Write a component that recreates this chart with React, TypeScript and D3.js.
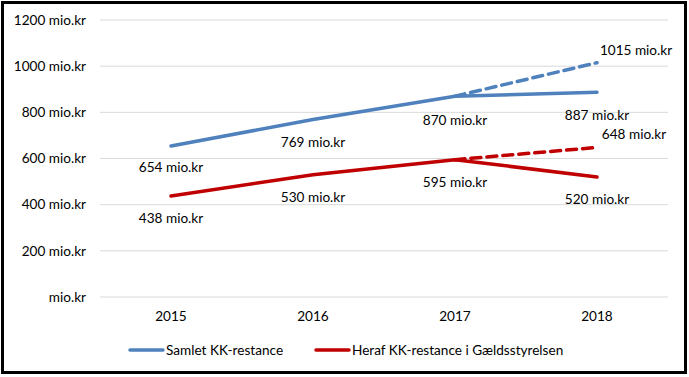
import React from "react";
import * as d3 from "d3";

const years = ["2015", "2016", "2017", "2018"];
const samlet = [654, 769, 870, 887];
const samletForecast = [870, 1015]; // 2017 -> 2018 (dashed)
const heraf = [438, 530, 595, 520];
const herafForecast = [595, 648];
const yTicks = [0, 200, 400, 600, 800, 1000, 1200];
const seriesNames = ["Samlet KK-restance", "Heraf KK-restance i Gældsstyrelsen"];

const W = 689;
const H = 377;
const BLUE = "#4F81BD";
const RED = "#C00000";
const FONT = "Lato, 'Open Sans', sans-serif";
const FS = 13.6;

export default function App() {
  const x = d3.scaleBand<string>().domain(years).range([100, 668]);
  const cx = (y: string) => (x(y) as number) + x.bandwidth() / 2;
  const y = d3.scaleLinear().domain([0, 1200]).range([297, 20]);
  const line = d3
    .line<[string, number]>()
    .x((d) => cx(d[0]))
    .y((d) => y(d[1]));

  const fmt = (v: number) => (v === 0 ? "mio.kr" : `${v} mio.kr`);

  const samletPts = years.map((yr, i) => [yr, samlet[i]] as [string, number]);
  const herafPts = years.map((yr, i) => [yr, heraf[i]] as [string, number]);
  const samletF = [["2017", samletForecast[0]], ["2018", samletForecast[1]]] as [string, number][];
  const herafF = [["2017", herafForecast[0]], ["2018", herafForecast[1]]] as [string, number][];

  // label offsets (dx, dy) relative to point
  const samletLabelOff = [[0, 21], [0, 23], [0, 24], [0, 23]];
  const herafLabelOff = [[0, 22], [0, 23], [0, 23], [0, 22]];

  return (
    <svg
      width={W}
      height={H}
      style={{ position: "absolute", left: 0, top: 0, background: "#fff" }}
      fontFamily={FONT}
    >
      <rect x={0} y={0} width={W} height={H} fill="#fff" />
      {/* gridlines */}
      {yTicks.map((t) => (
        <line key={t} x1={100} x2={668} y1={y(t)} y2={y(t)} stroke="#D9D9D9" strokeWidth={1} />
      ))}
      {/* y labels */}
      {yTicks.map((t) => (
        <text key={"l" + t} x={86} y={y(t)} dy="0.35em" textAnchor="end" fontSize={FS} fill="#000">
          {fmt(t)}
        </text>
      ))}
      {/* x labels */}
      {years.map((yr) => (
        <text key={yr} x={cx(yr)} y={316} dy="0.35em" textAnchor="middle" fontSize={FS} fill="#000">
          {yr}
        </text>
      ))}
      {/* forecast dashed lines */}
      <path d={line(samletF) as string} fill="none" stroke={BLUE} strokeWidth={3.5} strokeDasharray="10,6" strokeLinecap="round" />
      <path d={line(herafF) as string} fill="none" stroke={RED} strokeWidth={3.5} strokeDasharray="10,6" strokeLinecap="round" />
      {/* main lines */}
      <path d={line(samletPts) as string} fill="none" stroke={BLUE} strokeWidth={3.5} strokeLinecap="round" strokeLinejoin="round" />
      <path d={line(herafPts) as string} fill="none" stroke={RED} strokeWidth={3.5} strokeLinecap="round" strokeLinejoin="round" />
      {/* data labels */}
      {samletPts.map((d, i) => (
        <text key={"s" + i} x={cx(d[0]) + samletLabelOff[i][0]} y={y(d[1]) + samletLabelOff[i][1]} dy="0.35em" textAnchor="middle" fontSize={FS} fill="#000">
          {fmt(d[1])}
        </text>
      ))}
      {herafPts.map((d, i) => (
        <text key={"h" + i} x={cx(d[0]) + herafLabelOff[i][0]} y={y(d[1]) + herafLabelOff[i][1]} dy="0.35em" textAnchor="middle" fontSize={FS} fill="#000">
          {fmt(d[1])}
        </text>
      ))}
      <text x={cx("2018") + 39} y={y(samletForecast[1]) - 12} dy="0.35em" textAnchor="middle" fontSize={FS} fill="#000">
        {fmt(samletForecast[1])}
      </text>
      <text x={cx("2018") + 37} y={y(herafForecast[1]) - 13} dy="0.35em" textAnchor="middle" fontSize={FS} fill="#000">
        {fmt(herafForecast[1])}
      </text>
      {/* legend */}
      <line x1={130} x2={163} y1={350} y2={350} stroke={BLUE} strokeWidth={3.5} strokeLinecap="round" />
      <text x={166} y={350} dy="0.35em" fontSize={FS} fill="#000">{seriesNames[0]}</text>
      <line x1={316} x2={349} y1={350} y2={350} stroke={RED} strokeWidth={3.5} strokeLinecap="round" />
      <text x={352} y={350} dy="0.35em" fontSize={FS} fill="#000">{seriesNames[1]}</text>
      {/* outer border */}
      <rect x={2.5} y={2.5} width={683} height={370} fill="none" stroke="#000" strokeWidth={3} />
    </svg>
  );
}
